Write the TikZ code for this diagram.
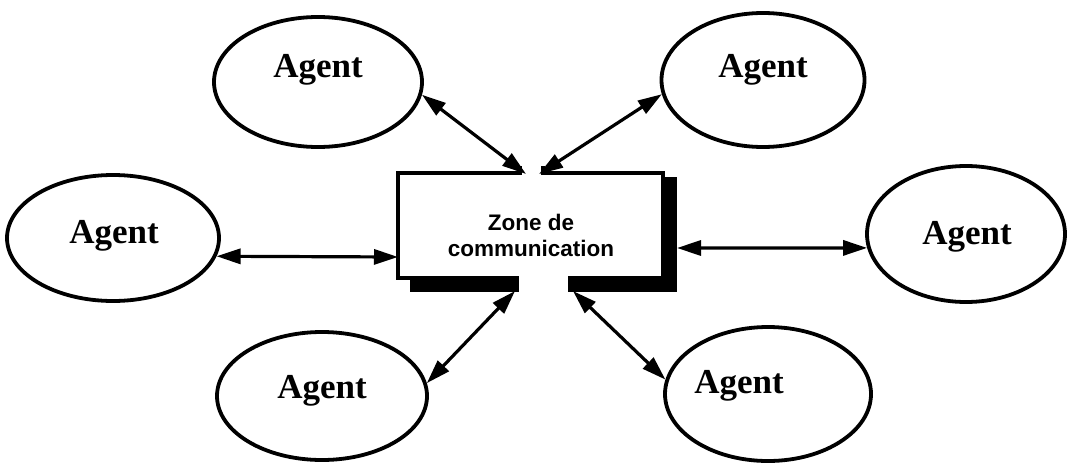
\documentclass[tikz,border=0pt]{standalone}
\usepackage{fontspec}
\setmainfont{Liberation Serif}
\newfontfamily\boxfont{Liberation Sans}
\usetikzlibrary{arrows.meta,shapes.geometric}
\tikzset{
  agentshape/.style={ellipse, draw, line width=3.8pt, inner sep=0pt},
  agenttext/.style={font=\fontsize{35}{38}\selectfont\bfseries, inner sep=0pt},
  link/.style={line width=3.2pt, {Triangle[length=24pt,width=15pt]}-{Triangle[length=24pt,width=15pt]}},
  boxline/.style={line width=3.8pt, line join=miter},
  shadowfill/.style={fill=black, draw=none}
}
\begin{document}
\begin{tikzpicture}[x=1pt,y=-1pt]
\useasboundingbox (0,0) rectangle (1067,463);
% agents
\node[agentshape, minimum width=208pt, minimum height=130pt] (tl) at (318,82) {};
\node[agentshape, minimum width=203pt, minimum height=134pt] (tr) at (763,80) {};
\node[agentshape, minimum width=212pt, minimum height=126pt] (l)  at (113,238) {};
\node[agentshape, minimum width=198pt, minimum height=136pt] (r)  at (966,234) {};
\node[agentshape, minimum width=210pt, minimum height=128pt] (bl) at (322,396) {};
\node[agentshape, minimum width=206pt, minimum height=134pt] (br) at (768,394) {};
\node[agenttext] (tlt) at (318,70) {Agent};
\node[agenttext] (trt) at (763,70) {Agent};
\node[agenttext] (lt)  at (114,236) {Agent};
\node[agenttext] (rt)  at (967,237) {Agent};
\node[agenttext] (blt) at (322,391) {Agent};
\node[agenttext] (brt) at (739,386) {Agent};
% communication zone
\node[minimum width=265pt, minimum height=105pt, inner sep=0pt] (zone) at (530.5,225.5) {};
\node[font=\boxfont\fontsize{22.5}{26}\selectfont\bfseries, align=center, inner sep=0pt] (zonet) at (531,235) {Zone de\\communication};
% shadow
\fill[shadowfill] (663,177) rectangle (677,292);
\fill[shadowfill] (410,278) rectangle (517,292);
\fill[shadowfill] (570,278) rectangle (677,292);
% outline with gaps
\draw[boxline] (520,166) -- (520,173) -- (398,173) -- (398,278) -- (517,278) -- (517,292);
\draw[boxline] (543,166) -- (543,173) -- (663,173) -- (663,278) -- (570,278) -- (570,292);
% anchor coordinates on the box
\coordinate (ztl) at (526,174);
\coordinate (ztr) at (539,174);
\coordinate (zl)  at (398,257);
\coordinate (zr)  at (677,248);
\coordinate (zbl) at (515,291);
\coordinate (zbr) at (573,291);
% connectors
\draw[link] (tl.-7) -- (ztl);
\draw[link] (ztr) -- (tr.188);
\draw[link] (l.-10) -- (zl);
\draw[link] (zr) -- (r.188);
\draw[link] (zbl) -- (bl.7);
\draw[link] (zbr) -- (br.172);
\end{tikzpicture}
\end{document}
